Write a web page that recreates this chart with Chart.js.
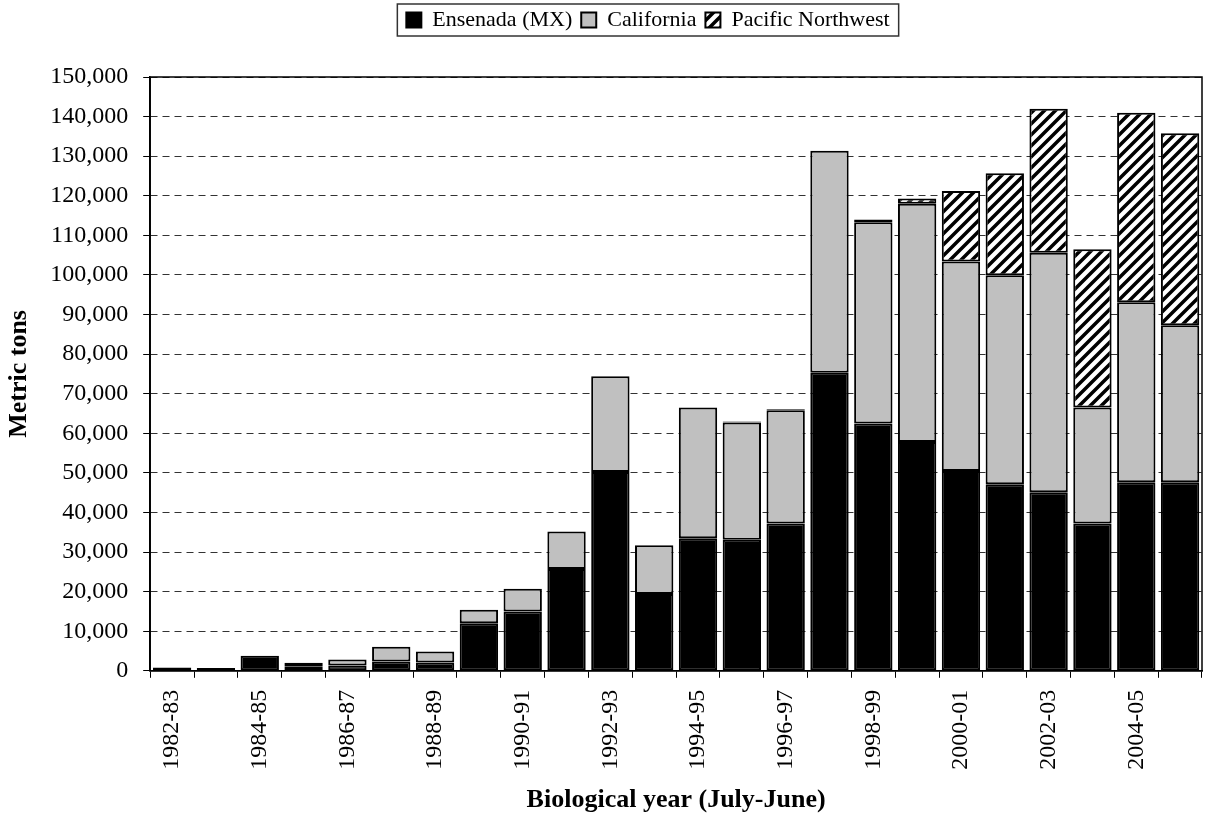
<!DOCTYPE html>
<html>
<head>
<meta charset="utf-8">
<script src="https://cdn.jsdelivr.net/npm/chart.js@4"></script>
<style>
  html, body { margin: 0; padding: 0; background: #fff; }
  #wrap { width: 1205px; height: 818px; position: relative; }
</style>
</head>
<body>
<div id="wrap"><canvas id="chart"></canvas></div>
<script>
// ----------------- DATA -----------------
const years = [
  "1982-83", "1983-84", "1984-85", "1985-86", "1986-87", "1987-88",
  "1988-89", "1989-90", "1990-91", "1991-92", "1992-93", "1993-94",
  "1994-95", "1995-96", "1996-97", "1997-98", "1998-99", "1999-00",
  "2000-01", "2001-02", "2002-03", "2003-04", "2004-05", "2005-06"
];
const ensenada = [
  850, 680, 3800, 1000, 1350, 2350, 2100, 12000, 15000, 25700, 50200, 19400,
  33500, 33100, 37200, 75300, 62500, 57800, 50500, 47100, 45100, 37200, 47600, 47600
];
const california = [
  0, 0, 0, 1030, 1520, 3750, 2800, 3450, 5750, 9500, 24200, 12300,
  33000, 29600, 28600, 56100, 50800, 60200, 52900, 52800, 60500, 29300, 45500, 39700
];
const pacificNW = [
  0, 0, 0, 0, 0, 0, 0, 0, 0, 0, 0, 0,
  0, 300, 300, 0, 700, 1300, 17800, 25800, 36400, 40000, 47900, 48500
];
const seriesNames = ["Ensenada (MX)", "California", "Pacific Northwest"];
const yMax = 150000;
const yStep = 10000;

// ----------------- HATCH PATTERN -----------------
function makeHatch() {
  const s = 11;
  const c = document.createElement("canvas");
  c.width = s;
  c.height = s;
  const g = c.getContext("2d");
  g.fillStyle = "#fff";
  g.fillRect(0, 0, s, s);
  g.strokeStyle = "#000";
  g.lineWidth = 3.5;
  g.beginPath();
  g.moveTo(-s / 2, s / 2); g.lineTo(s / 2, -s / 2);
  g.moveTo(0, s); g.lineTo(s, 0);
  g.moveTo(s / 2, s * 1.5); g.lineTo(s * 1.5, s / 2);
  g.stroke();
  return g.createPattern(c, "repeat");
}

// ----------------- PLUGINS -----------------
// push the legend right and leave room under it, then frame it
const legendBox = {
  id: "legendBox",
  beforeLayout(chart) {
    const lg = chart.legend;
    if (lg && !lg._padded) {
      const fit = lg.fit.bind(lg);
      lg.fit = function () { fit(); this.height += 36; };
      lg._padded = true;
    }
  },
  afterLayout(chart) {
    const lg = chart.legend;
    lg.left += 47;
    lg.right += 47;
  },
  afterDraw(chart) {
    const { ctx, chartArea } = chart;
    const hb = chart.legend.legendHitBoxes;
    ctx.save();
    // plot frame
    ctx.strokeStyle = "#000";
    ctx.lineWidth = 1.5;
    ctx.strokeRect(chartArea.left, chartArea.top, chartArea.right - chartArea.left, chartArea.bottom - chartArea.top);
    // legend frame
    if (hb && hb.length) {
      const last = hb[hb.length - 1];
      const x0 = hb[0].left - 9;
      const x1 = last.left + last.width + 9;
      const y0 = hb[0].top - 5;
      const y1 = hb[0].top + hb[0].height + 5;
      ctx.strokeStyle = "#333";
      ctx.lineWidth = 1.5;
      ctx.strokeRect(x0, y0, x1 - x0, y1 - y0);
    }
    ctx.restore();
  }
};

// ----------------- CHART -----------------
Chart.defaults.font.family = "'Liberation Serif', 'Times New Roman', serif";
Chart.defaults.color = "#000";

const barStyle = {
  borderColor: "#000",
  borderWidth: 2,
  borderSkipped: false,
  barPercentage: 0.875,
  categoryPercentage: 1
};

const ctx = document.getElementById("chart").getContext("2d");
const chart = new Chart(ctx, {
  type: "bar",
  data: {
    labels: years,
    datasets: [
      Object.assign({ label: seriesNames[0], data: ensenada, backgroundColor: "#000" }, barStyle),
      Object.assign({ label: seriesNames[1], data: california, backgroundColor: "#c0c0c0" }, barStyle),
      Object.assign({ label: seriesNames[2], data: pacificNW, backgroundColor: makeHatch() }, barStyle)
    ]
  },
  options: {
    responsive: true,
    maintainAspectRatio: false,
    animation: false,
    layout: { padding: { left: 0, right: 3, top: 0, bottom: 0 } },
    plugins: {
      legend: {
        position: "top",
        labels: {
          font: { size: 22 },
          boxWidth: 15,
          boxHeight: 15,
          padding: 9
        }
      },
      tooltip: { enabled: false }
    },
    scales: {
      x: {
        stacked: true,
        afterFit: scale => { scale.paddingLeft = 0; scale.paddingRight = 0; },
        grid: { drawOnChartArea: false, drawTicks: true, tickLength: 7, color: "#000", offset: true },
        border: { color: "#000", width: 1.5 },
        ticks: {
          autoSkip: false,
          maxRotation: 90,
          minRotation: 90,
          padding: 12,
          font: { size: 24 },
          callback: function (v, i) { return i % 2 === 0 ? this.getLabelForValue(v) : ""; }
        },
        title: {
          display: true,
          text: "Biological year (July-June)",
          font: { size: 26, weight: "bold" },
          padding: { top: 3, bottom: 2 }
        }
      },
      y: {
        stacked: true,
        min: 0,
        max: yMax,
        grid: { color: "#333", lineWidth: 1, tickLength: 7, tickColor: "#000" },
        border: { color: "#000", width: 1.5, dash: [7, 5] },
        ticks: {
          stepSize: yStep,
          padding: 15,
          font: { size: 24 },
          callback: v => v.toLocaleString("en-US")
        },
        title: {
          display: true,
          text: "Metric tons",
          font: { size: 26, weight: "bold" },
          padding: { top: 4, bottom: 0 }
        }
      }
    }
  },
  plugins: [legendBox]
});
</script>
</body>
</html>
